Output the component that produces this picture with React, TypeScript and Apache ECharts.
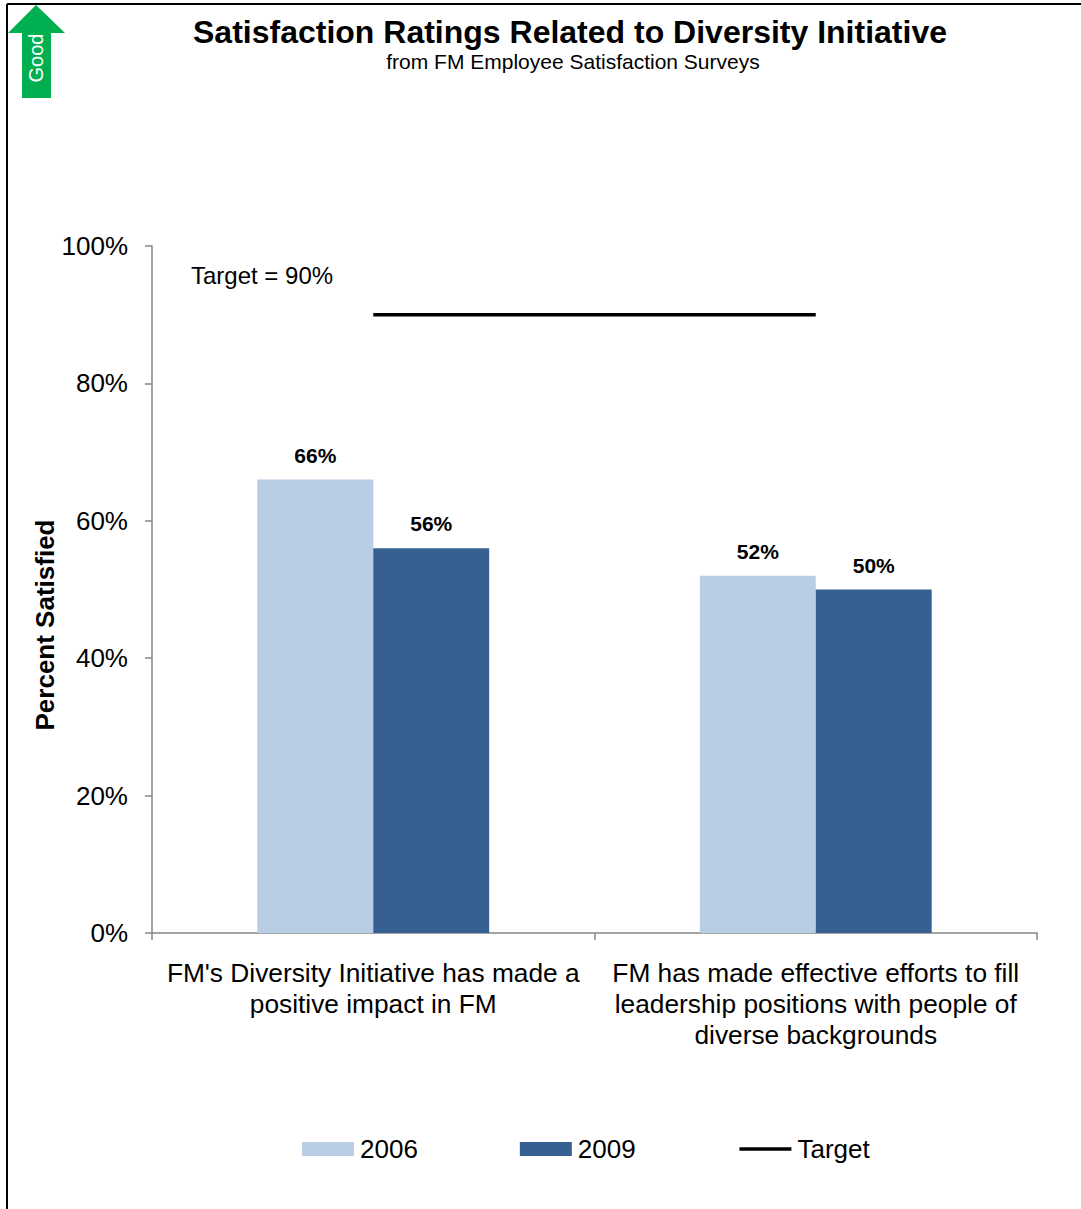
import React, { useEffect, useRef } from "react";
import * as echarts from "echarts";

const categories = [
  "FM's Diversity Initiative has made a\npositive impact in FM",
  "FM has made effective efforts to fill\nleadership positions with people of\ndiverse backgrounds",
];
const values2006 = [66, 52];
const values2009 = [56, 50];
const targetValues = [90, 90];
const yTicks = [0, 20, 40, 60, 80, 100];

const FONT = "'Liberation Sans', Arial, sans-serif";

export default function App() {
  const ref = useRef<HTMLDivElement>(null);
  useEffect(() => {
    if (!ref.current) return;
    const chart = echarts.init(ref.current, null, { renderer: "svg" });
    chart.setOption({
      animation: false,
      textStyle: { fontFamily: FONT },
      grid: { left: 152, right: 44, top: 246, bottom: 276, containLabel: false },
      xAxis: {
        type: "category",
        data: categories,
        axisLine: { lineStyle: { color: "#868686", width: 1.5 } },
        axisTick: { show: true, length: 7, lineStyle: { color: "#868686", width: 1.5 } },
        axisLabel: { color: "#000", fontSize: 26.3, lineHeight: 31, margin: 24, fontFamily: FONT, interval: 0 },
      },
      yAxis: {
        type: "value",
        min: yTicks[0],
        max: yTicks[yTicks.length - 1],
        interval: 20,
        splitLine: { show: false },
        axisLine: { show: true, lineStyle: { color: "#868686", width: 1.5 } },
        axisTick: { show: true, length: 7, lineStyle: { color: "#868686", width: 1.5 } },
        axisLabel: { color: "#000", fontSize: 26, margin: 24, fontFamily: FONT, formatter: "{value}%" },
      },
      legend: {
        left: 297,
        top: 1131,
        itemWidth: 52,
        itemHeight: 14,
        itemGap: 102,
        textStyle: { color: "#000", fontSize: 26, fontFamily: FONT, padding: [0, 0, 0, 1] },
        data: [
          { name: "2006", icon: "rect" },
          { name: "2009", icon: "rect" },
          {
            name: "Target",
            itemStyle: { opacity: 0, color: "rgba(0,0,0,0)", borderWidth: 0 },
            lineStyle: { color: "#000", width: 3.5 },
          },
        ],
      },
      series: [
        {
          name: "2006",
          type: "bar",
          data: values2006,
          barGap: "0%",
          barCategoryGap: "47.6%",
          itemStyle: { color: "#B9CDE5" },
          label: { show: true, position: "top", distance: 14, color: "#000", fontSize: 21, fontWeight: "bold", fontFamily: FONT, formatter: "{c}%" },
        },
        {
          name: "2009",
          type: "bar",
          data: values2009,
          barGap: "0%",
          barCategoryGap: "47.6%",
          itemStyle: { color: "#376092" },
          label: { show: true, position: "top", distance: 14, color: "#000", fontSize: 21, fontWeight: "bold", fontFamily: FONT, formatter: "{c}%" },
        },
        {
          name: "Target",
          type: "line",
          data: targetValues,
          symbol: "none",
          showSymbol: false,
          lineStyle: { color: "#000", width: 3.5 },
          itemStyle: { color: "#000" },
        },
      ],
      graphic: [
        { type: "line", shape: { x1: 7, y1: 4, x2: 1081, y2: 4 }, style: { stroke: "#000", lineWidth: 2 } },
        { type: "line", shape: { x1: 7, y1: 4, x2: 7, y2: 1209 }, style: { stroke: "#000", lineWidth: 2 } },
        {
          type: "polygon",
          shape: { points: [[36, 5], [65, 33], [51, 33], [51, 98], [22, 98], [22, 33], [8, 33]] },
          style: { fill: "#00B050" },
        },
        {
          type: "text",
          x: 36,
          y: 58,
          rotation: Math.PI / 2,
          style: { text: "Good", fill: "#fff", fontSize: 20, fontFamily: FONT, align: "center", verticalAlign: "middle" },
        },
        {
          type: "text",
          x: 570,
          y: 32,
          style: { text: "Satisfaction Ratings Related to Diversity Initiative", fill: "#000", fontSize: 32, fontWeight: "bold", fontFamily: FONT, align: "center", verticalAlign: "middle" },
        },
        {
          type: "text",
          x: 573,
          y: 61,
          style: { text: "from FM Employee Satisfaction Surveys", fill: "#000", fontSize: 21, fontFamily: FONT, align: "center", verticalAlign: "middle" },
        },
        {
          type: "text",
          x: 191,
          y: 275,
          style: { text: "Target = 90%", fill: "#000", fontSize: 24, fontFamily: FONT, align: "left", verticalAlign: "middle" },
        },
        {
          type: "text",
          x: 45,
          y: 625,
          rotation: Math.PI / 2,
          style: { text: "Percent Satisfied", fill: "#000", fontSize: 26, fontWeight: "bold", fontFamily: FONT, align: "center", verticalAlign: "middle" },
        },
      ],
    });
    return () => chart.dispose();
  }, []);
  return <div ref={ref} style={{ position: "fixed", left: 0, top: 0, width: 1081, height: 1209, background: "#fff" }} />;
}
